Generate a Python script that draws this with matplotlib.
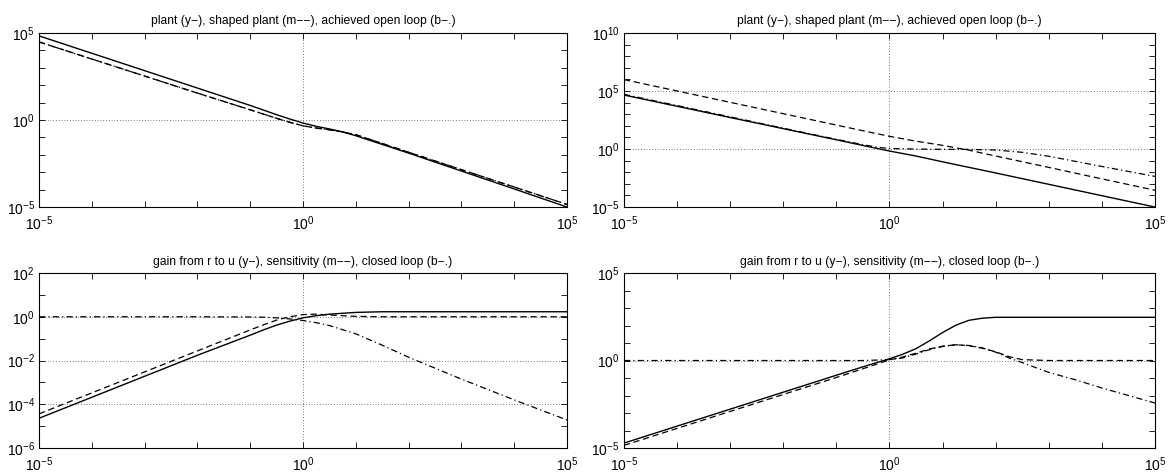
import numpy as np
import matplotlib.pyplot as plt
from matplotlib.ticker import FixedLocator, NullFormatter, LogFormatterSciNotation

plt.rcParams['font.family'] = ['Liberation Sans', 'DejaVu Sans']
plt.rcParams['mathtext.fontset'] = 'custom'
plt.rcParams['mathtext.rm'] = 'Liberation Sans'
plt.rcParams['mathtext.it'] = 'Liberation Sans:italic'
plt.rcParams['mathtext.bf'] = 'Liberation Sans:bold'

# ---- data (log10 of frequency and of gain) ----
# top left: plant / shaped plant / achieved open loop
w_tl = [-5, -4, -3, -2, -1, -0.5, -0.25, 0, 0.25, 0.5, 0.75, 1, 2, 3, 4, 5]
plant_tl = [4.84, 3.84, 2.84, 1.84, 0.84, 0.31, 0.06, -0.17, -0.36, -0.51, -0.68, -0.9, -1.9, -2.93, -3.96, -5.0]
shaped_tl = [4.49, 3.51, 2.53, 1.55, 0.59, 0.1, -0.13, -0.33, -0.46, -0.56, -0.68, -0.84, -1.85, -2.85, -3.85, -4.85]
openloop_tl = [4.49, 3.51, 2.53, 1.55, 0.59, 0.1, -0.13, -0.33, -0.46, -0.56, -0.68, -0.84, -1.85, -2.85, -3.85, -4.85]

# top right
w_tr = [-5, -4, -3, -2, -1, -0.5, -0.25, 0, 0.5, 1, 1.5, 2, 2.5, 3, 4, 5]
plant_tr = [4.66, 3.69, 2.72, 1.76, 0.8, 0.31, 0.07, -0.17, -0.6, -1.1, -1.58, -2.06, -2.55, -3.04, -4.02, -5.0]
shaped_tr = [5.99, 5.01, 4.03, 3.05, 2.07, 1.58, 1.34, 1.1, 0.68, 0.32, -0.1, -0.6, -1.09, -1.58, -2.57, -3.55]
openloop_tr = [4.72, 3.75, 2.78, 1.8, 0.84, 0.38, 0.17, 0.05, 0.0, -0.02, -0.03, -0.08, -0.28, -0.62, -1.5, -2.36]

# bottom left: gain r->u / sensitivity / closed loop
w_bl = [-5, -4, -3, -2, -1, -0.75, -0.5, -0.25, 0, 0.25, 0.5, 1, 1.5, 2, 3, 4, 5]
ru_bl = [-4.64, -3.68, -2.72, -1.76, -0.84, -0.6, -0.38, -0.2, -0.05, 0.05, 0.12, 0.2, 0.23, 0.23,
         0.23, 0.23, 0.23]
sens_bl = [-4.44, -3.48, -2.52, -1.56, -0.6, -0.37, -0.15, 0.0, 0.1, 0.12, 0.08, 0.02, 0.0, 0.0,
           0.0, 0.0, 0.0]
cl_bl = [0.0, 0.0, 0.0, 0.0, -0.01, -0.02, -0.05, -0.1, -0.17, -0.27, -0.4, -0.78, -1.3, -1.85,
         -2.85, -3.8, -4.72]

# bottom right
w_br = [-5, -4, -3, -2, -1, -0.5, 0, 0.25, 0.5, 0.75, 1, 1.25, 1.5, 1.75, 2, 2.25, 2.5, 3, 3.5, 4, 4.5, 5]
ru_br = [-4.72, -3.75, -2.78, -1.81, -0.84, -0.36, 0.1, 0.36, 0.68, 1.12, 1.6, 2.02, 2.3, 2.42, 2.47, 2.47,
         2.47, 2.47, 2.47, 2.47, 2.47, 2.47]
sens_br = [-4.85, -3.88, -2.91, -1.94, -0.97, -0.47, 0.04, 0.2, 0.42, 0.66, 0.82, 0.9, 0.85, 0.7, 0.5, 0.22,
           0.05, 0.0, 0.0, 0.0, 0.0, 0.0]
cl_br = [0.0, 0.0, 0.0, 0.0, 0.0, 0.0, 0.05, 0.15, 0.37, 0.62, 0.8, 0.9, 0.86, 0.72, 0.48, 0.15,
         -0.12, -0.68, -1.1, -1.57, -2.0, -2.43]

title_top = 'plant (y\u2212), shaped plant (m\u2212\u2212), achieved open loop (b\u2212.)'
title_bot = 'gain from r to u (y\u2212), sensitivity (m\u2212\u2212), closed loop (b\u2212.)'


def setup(ax, yticks, ylo, yhi, title, tpad):
    ax.set_xscale('log')
    ax.set_yscale('log')
    ax.set_xlim(1e-5, 1e5)
    ax.set_ylim(10.0**ylo, 10.0**yhi)
    ax.xaxis.set_major_locator(FixedLocator([1e-5, 1e0, 1e5]))
    ax.xaxis.set_minor_locator(FixedLocator(10.0**np.arange(-5, 6)))
    ax.yaxis.set_major_locator(FixedLocator(yticks))
    ax.yaxis.set_minor_locator(FixedLocator(10.0**np.arange(ylo, yhi + 1)))
    ax.xaxis.set_major_formatter(LogFormatterSciNotation())
    ax.yaxis.set_major_formatter(LogFormatterSciNotation())
    ax.xaxis.set_minor_formatter(NullFormatter())
    ax.yaxis.set_minor_formatter(NullFormatter())
    ax.tick_params(which='both', direction='in', top=True, right=True, length=4, width=0.6,
                   labelsize=10)
    ax.tick_params(axis='x', pad=5)
    ax.tick_params(axis='y', pad=3)
    ax.grid(True, which='major', linestyle=(0, (1, 3)), color='k', linewidth=0.5)
    for s in ax.spines.values():
        s.set_linewidth(0.8)
    ax.set_title(title, fontsize=8.7, pad=tpad)


def draw(ax, w, a, b, c):
    f = 10.0**np.array(w)
    ax.plot(f, 10.0**np.array(a), color='k', lw=1.0)
    ax.plot(f, 10.0**np.array(b), color='k', lw=0.9, dashes=(5, 3))
    ax.plot(f, 10.0**np.array(c), color='k', lw=0.9, dashes=(5, 2.5, 1, 2.5))


fig = plt.figure(figsize=(11.75, 4.76), dpi=100)
ax1 = fig.add_axes([0.0332, 0.565, 0.4494, 0.3655])
ax2 = fig.add_axes([0.531, 0.565, 0.452, 0.3655])
ax3 = fig.add_axes([0.0332, 0.0588, 0.4494, 0.3676])
ax4 = fig.add_axes([0.531, 0.0588, 0.452, 0.3676])

draw(ax1, w_tl, plant_tl, shaped_tl, openloop_tl)
setup(ax1, [1e-5, 1e0, 1e5], -5, 5, title_top, 6.5)

draw(ax2, w_tr, plant_tr, shaped_tr, openloop_tr)
setup(ax2, [1e-5, 1e0, 1e5, 1e10], -5, 10, title_top, 6.5)

draw(ax3, w_bl, ru_bl, sens_bl, cl_bl)
setup(ax3, [1e-6, 1e-4, 1e-2, 1e0, 1e2], -6, 2, title_bot, 6)

draw(ax4, w_br, ru_br, sens_br, cl_br)
setup(ax4, [1e-5, 1e0, 1e5], -5, 5, title_bot, 6)

fig.savefig('out.png', dpi=100)
